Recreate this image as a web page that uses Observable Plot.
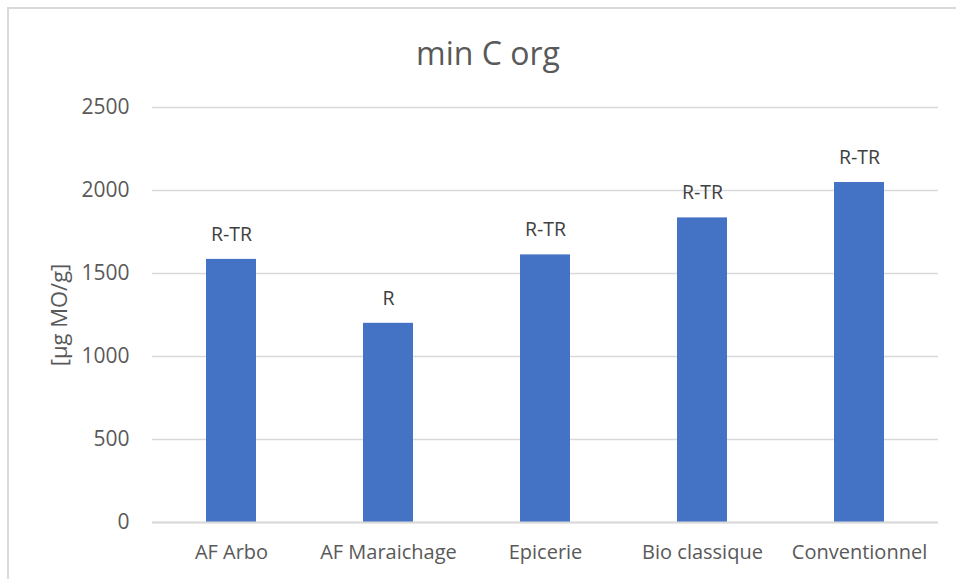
<!DOCTYPE html>
<html>
<head>
<meta charset="utf-8">
<script src="https://cdn.jsdelivr.net/npm/d3@7"></script>
<script src="https://cdn.jsdelivr.net/npm/@observablehq/plot@0.6"></script>
<style>
  html, body { margin: 0; padding: 0; background: #fff; }
  #wrap { position: relative; width: 956px; height: 579px; overflow: hidden; background: #fff; font-family: "Open Sans", sans-serif; }
  #border { position: absolute; left: 7px; top: 7px; width: 1000px; height: 1000px; border-left: 2px solid #d9d9d9; border-top: 2px solid #d9d9d9; }
  #title { position: absolute; left: 0; top: 0; width: 956px; height: 90px; text-align: center; }
  #title span { position: absolute; left: 488px; top: 37px; transform: translateX(-50%); font-size: 32px; color: #595959; white-space: nowrap; line-height: 1; }
  #chart { position: absolute; left: 0; top: 90px; }
</style>
</head>
<body>
<div id="wrap">
  <div id="border"></div>
  <div id="title"><span>min C org</span></div>
  <div id="chart"></div>
</div>
<script>
const categories = ["AF Arbo", "AF Maraichage", "Epicerie", "Bio classique", "Conventionnel"];
const values = [1585, 1200, 1612, 1835, 2048];
const letters = ["R-TR", "R", "R-TR", "R-TR", "R-TR"];
const yTicks = [0, 500, 1000, 1500, 2000, 2500];
const yLabel = "[µg MO/g]";

const data = categories.map((c, i) => ({category: c, value: values[i], letter: letters[i]}));

const chart = Plot.plot({
  width: 956,
  height: 489,
  marginLeft: 152,
  marginRight: 18,
  marginTop: 17,
  marginBottom: 57,
  style: {fontFamily: "Open Sans, sans-serif", background: "transparent"},
  x: {domain: categories, paddingInner: 0.68, paddingOuter: 0.34, label: null},
  y: {domain: [0, 2500], label: null},
  marks: [
    Plot.gridY(yTicks, {stroke: "#d9d9d9", strokeOpacity: 1, strokeWidth: 1.3}),
    Plot.axisY(yTicks, {tickSize: 0, tickPadding: 23, fontSize: 21, fill: "#595959", label: null, tickFormat: d => String(d)}),
    Plot.axisX({tickSize: 0, tickPadding: 22, fontSize: 20, fill: "#595959", label: null}),
    Plot.barY(data, {x: "category", y: "value", fill: "#4472C4"}),
    Plot.ruleY([0], {stroke: "#d9d9d9", strokeWidth: 2}),
    Plot.text(data, {x: "category", y: "value", text: "letter", dy: -25, fontSize: 19.5, fill: "#404040"}),
    Plot.text([yLabel], {frameAnchor: "left", textAnchor: "middle", dx: -93, rotate: -90, fontSize: 22, fill: "#595959"})
  ]
});
document.getElementById("chart").appendChild(chart);
</script>
</body>
</html>
